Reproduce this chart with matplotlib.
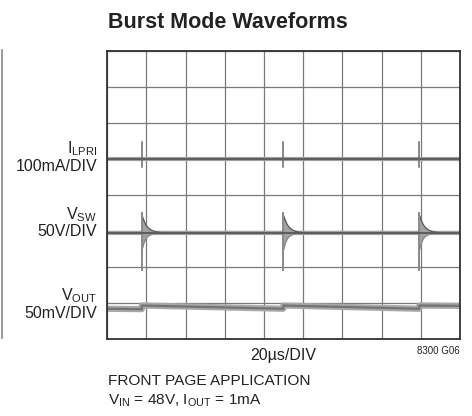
import matplotlib
matplotlib.use("Agg")
import matplotlib.pyplot as plt
from matplotlib.lines import Line2D
import numpy as np

plt.rcParams['font.family'] = ['Liberation Sans', 'DejaVu Sans']
plt.rcParams['mathtext.fontset'] = 'custom'
plt.rcParams['mathtext.rm'] = 'Liberation Sans'

# time axis: 9 divisions of 20 us, 8 vertical divisions
t_max = 180
n_ydiv = 8

# burst instants (us)
burst_us = [17.6, 89.8, 159.2]

# I_LPRI trace (divisions)
ilpri_base = 5.0
ilpri_hi = 5.46
ilpri_lo = 4.78

# V_SW trace (divisions) and ringing envelope after each burst
vsw_base = 2.95
vsw_hi = 3.51
vsw_lo = 1.92
ring_dt = [0, 1, 2, 3, 5, 7, 10]
ring_hi = [3.45, 3.30, 3.18, 3.10, 3.02, 2.98, 2.95]
ring_lo = [2.45, 2.65, 2.78, 2.85, 2.91, 2.94, 2.95]

# V_OUT trace (divisions): steps up at each burst, droops between
vout_t = [0, 17.6, 17.6, 89.8, 89.8, 159.2, 159.2, 180]
vout_y = [0.84, 0.83, 0.93, 0.84, 0.93, 0.84, 0.93, 0.92]

fig = plt.figure(figsize=(4.72, 4.16), dpi=100)
ax = fig.add_axes([107.3 / 472, 1 - 339 / 416, 352.7 / 472, 288 / 416])
ax.set_xlim(0, t_max)
ax.set_ylim(0, n_ydiv)
ax.set_xticks(np.arange(0, t_max + 1, 20))
ax.set_yticks(np.arange(0, n_ydiv + 1, 1))
ax.tick_params(length=0, labelbottom=False, labelleft=False)
ax.grid(True, color='#7a7a7a', lw=0.9)
ax.set_axisbelow(True)
for s in ax.spines.values():
    s.set_color('#333333')
    s.set_linewidth(1.3)

band = '#a0a0a0'
core = '#575757'

# I_LPRI
ax.plot([0, t_max], [ilpri_base] * 2, color=band, lw=3.0, solid_capstyle='butt')
ax.plot([0, t_max], [ilpri_base] * 2, color=core, lw=1.3, solid_capstyle='butt')
for b in burst_us:
    ax.plot([b, b], [ilpri_lo, ilpri_hi], color='#6a6a6a', lw=1.1)

# V_SW
ax.plot([0, t_max], [vsw_base] * 2, color=band, lw=3.0, solid_capstyle='butt')
for b in burst_us:
    rt = b + np.array(ring_dt)
    ax.fill_between(rt, ring_lo, ring_hi, color='#a2a2a2', lw=0)
    ax.plot(rt, ring_hi, color='#5f5f5f', lw=1.0)
    ax.plot(rt, ring_lo, color='#8a8a8a', lw=0.9)
    ax.plot([b, b], [vsw_lo, vsw_hi], color='#8a8a8a', lw=1.4)
ax.plot([0, t_max], [vsw_base] * 2, color=core, lw=1.3, solid_capstyle='butt')

# V_OUT
ax.plot(vout_t, vout_y, color='#a8a8a8', lw=4.5, solid_capstyle='butt')
ax.plot(vout_t, vout_y, color='#737373', lw=1.6, solid_capstyle='butt')

# page border line at far left
fig.add_artist(Line2D([2 / 472, 2 / 472], [1 - 338 / 416, 1 - 50 / 416],
                      color='#8a8a8a', lw=1.2))

# texts
fig.text(108 / 472, 1 - 28 / 416, 'Burst Mode Waveforms', fontsize=15.5,
         fontweight='bold', ha='left', va='baseline', color='#222222')

lab = dict(fontsize=11.5, ha='right', va='baseline', color='#222222')
fig.text(97 / 472, 1 - 153 / 416, r'I$\mathregular{_{LPRI}}$', **lab)
fig.text(97 / 472, 1 - 171 / 416, '100mA/DIV', **lab)
fig.text(97 / 472, 1 - 219 / 416, r'V$\mathregular{_{SW}}$', **lab)
fig.text(97 / 472, 1 - 236 / 416, '50V/DIV', **lab)
fig.text(97 / 472, 1 - 300 / 416, r'V$\mathregular{_{OUT}}$', **lab)
fig.text(97 / 472, 1 - 318 / 416, '50mV/DIV', **lab)

fig.text(283.7 / 472, 1 - 360 / 416, '20µs/DIV', fontsize=11.5,
         ha='center', va='baseline', color='#222222')
fig.text(460 / 472, 1 - 354 / 416, '8300 G06', fontsize=7,
         ha='right', va='baseline', color='#222222')
fig.text(108 / 472, 1 - 385 / 416, 'FRONT PAGE APPLICATION', fontsize=11.1,
         ha='left', va='baseline', color='#222222')
fig.text(108 / 472, 1 - 405 / 416,
         r'V$\mathregular{_{IN}}$ = 48V, I$\mathregular{_{OUT}}$ = 1mA',
         fontsize=11.1, ha='left', va='baseline', color='#222222')

fig.savefig('out.png', dpi=100)
